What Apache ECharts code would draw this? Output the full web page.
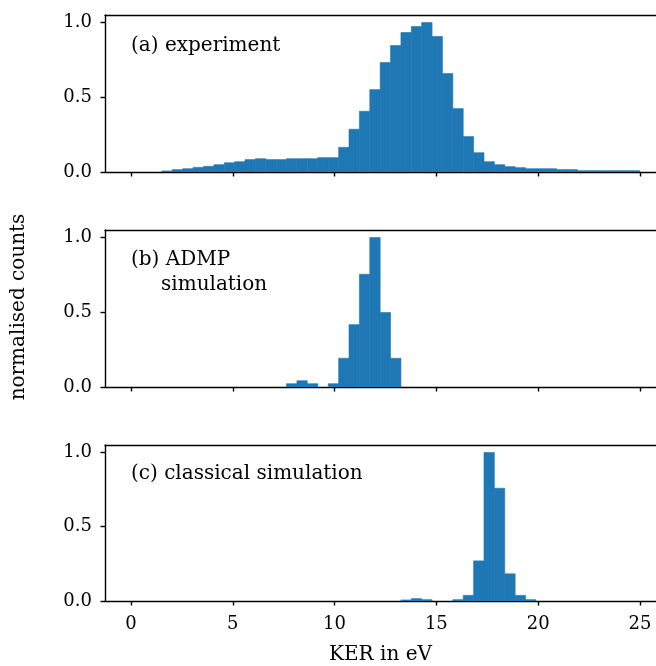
<!DOCTYPE html>
<html>
<head>
<meta charset="utf-8">
<script src="https://cdn.jsdelivr.net/npm/echarts@6/dist/echarts.min.js"></script>
<style>
html,body{margin:0;padding:0;background:#fff;}
#main{width:656px;height:666px;}
</style>
</head>
<body>
<div id="main"></div>
<script>
// Histogram bin edges (KER in eV), shared by all three panels
const binEdges = [1.52, 2.03, 2.54, 3.05, 3.56, 4.07, 4.58, 5.09, 5.60, 6.11, 6.62, 7.13, 7.64, 8.15, 8.66, 9.18,
  9.69, 10.20, 10.71, 11.22, 11.73, 12.24, 12.75, 13.26, 13.77, 14.28, 14.79, 15.30, 15.81, 16.32, 16.83,
  17.34, 17.85, 18.36, 18.87, 19.38, 19.89, 20.40, 20.91, 21.42, 21.93, 22.44, 22.95, 23.46, 23.97, 24.48, 25.00];

// (a) experiment
const experimentCounts = [0.007, 0.016, 0.022, 0.031, 0.038, 0.049, 0.062, 0.069, 0.083, 0.089,
  0.083, 0.083, 0.089, 0.089, 0.089, 0.096, 0.096, 0.165, 0.286, 0.406,
  0.551, 0.732, 0.846, 0.933, 0.973, 1.000, 0.906, 0.658, 0.424, 0.237,
  0.129, 0.069, 0.049, 0.036, 0.029, 0.022, 0.022, 0.022, 0.016, 0.016,
  0.009, 0.009, 0.009, 0.009, 0.009, 0.009];

// (b) ADMP simulation
const admpCounts = [0, 0, 0, 0, 0, 0, 0, 0, 0, 0,
  0, 0, 0.022, 0.042, 0.022, 0, 0.022, 0.192, 0.417, 0.754,
  1.000, 0.498, 0.192, 0, 0, 0, 0, 0, 0, 0,
  0, 0, 0, 0, 0, 0, 0, 0, 0, 0,
  0, 0, 0, 0, 0, 0];

// (c) classical simulation
const classicalCounts = [0, 0, 0, 0, 0, 0, 0, 0, 0, 0,
  0, 0, 0, 0, 0, 0, 0, 0, 0, 0,
  0, 0, 0, 0.007, 0.016, 0.009, 0, 0, 0.009, 0.038,
  0.270, 1.000, 0.759, 0.183, 0.038, 0.009, 0, 0, 0, 0,
  0, 0, 0, 0, 0, 0];

const xTicks = [0, 5, 10, 15, 20, 25];
const yTicks = [0, 0.5, 1.0];
const panelLabels = ['(a) experiment', '(b) ADMP', 'simulation', '(c) classical simulation'];
const xLabel = 'KER in eV';
const yLabel = 'normalised counts';

const FONT = '"DejaVu Serif", "Liberation Serif", serif';
const BAR = '#1f77b4';
const tops = [15, 230, 445];
const panelH = 157;

function histData(counts) {
  return counts.map((v, i) => [binEdges[i], binEdges[i + 1], v]);
}

const chart = echarts.init(document.getElementById('main'), null, {renderer: 'canvas'});

const grids = tops.map(t => ({
  left: 105, top: t, width: 551, height: panelH, show: false
}));

const frameLine = {show: true, onZero: false, lineStyle: {color: '#000', width: 1.4}};
const tickStyle = {color: '#000', width: 1.4};

// bottom x axes (with ticks) and top x axes (frame line only)
const xAxes = [];
[0, 1, 2].forEach(i => {
  xAxes.push({
    type: 'value', gridIndex: i, min: -1.277, max: 25.79, position: 'bottom',
    axisLine: frameLine,
    axisTick: {show: true, inside: false, length: 4.5, lineStyle: tickStyle, customValues: xTicks},
    axisLabel: {show: i === 2, color: '#000', fontFamily: FONT, fontSize: 18, margin: 14, customValues: xTicks,
      formatter: v => String(v)},
    splitLine: {show: false},
    name: i === 2 ? xLabel : '',
    nameLocation: 'middle', nameGap: 44,
    nameTextStyle: {color: '#000', fontFamily: FONT, fontSize: 20}
  });
});
[0, 1, 2].forEach(i => {
  xAxes.push({
    type: 'value', gridIndex: i, min: -1.277, max: 25.79, position: 'top',
    axisLine: frameLine, axisTick: {show: false}, axisLabel: {show: false}, splitLine: {show: false}
  });
});

const yAxes = [0, 1, 2].map(i => ({
  type: 'value', gridIndex: i, min: 0, max: 1.05,
  axisLine: frameLine,
  axisTick: {show: true, inside: false, length: 4.5, lineStyle: tickStyle, customValues: yTicks},
  axisLabel: {show: true, color: '#000', fontFamily: FONT, fontSize: 18, margin: 13, customValues: yTicks,
    formatter: v => v.toFixed(1)},
  splitLine: {show: false}
}));

function histSeries(counts, idx) {
  return {
    type: 'custom', xAxisIndex: idx, yAxisIndex: idx,
    data: histData(counts),
    clip: true,
    z: 1,
    renderItem: function (params, api) {
      const v = api.value(2);
      if (!v) return null;
      const p0 = api.coord([api.value(0), v]);
      const p1 = api.coord([api.value(1), 0]);
      return {
        type: 'rect',
        shape: {x: p0[0], y: p0[1], width: p1[0] - p0[0], height: p1[1] - p0[1]},
        style: {fill: BAR, stroke: BAR, lineWidth: 0.6}
      };
    }
  };
}

const textItem = (t, x, y) => ({
  type: 'text', x: x, y: y,
  style: {text: t, fill: '#000', font: '20px ' + FONT, verticalAlign: 'middle'}
});

chart.setOption({
  animation: false,
  grid: grids,
  xAxis: xAxes,
  yAxis: yAxes,
  series: [histSeries(experimentCounts, 0), histSeries(admpCounts, 1), histSeries(classicalCounts, 2)],
  graphic: [
    textItem(panelLabels[0], 131, 46),
    textItem(panelLabels[1], 131, 260),
    textItem(panelLabels[2], 161, 285),
    textItem(panelLabels[3], 131, 474),
    {
      type: 'text', x: 19, y: 307, rotation: Math.PI / 2,
      style: {text: yLabel, fill: '#000', font: '20px ' + FONT, align: 'center', verticalAlign: 'middle'}
    }
  ]
});
</script>
</body>
</html>
